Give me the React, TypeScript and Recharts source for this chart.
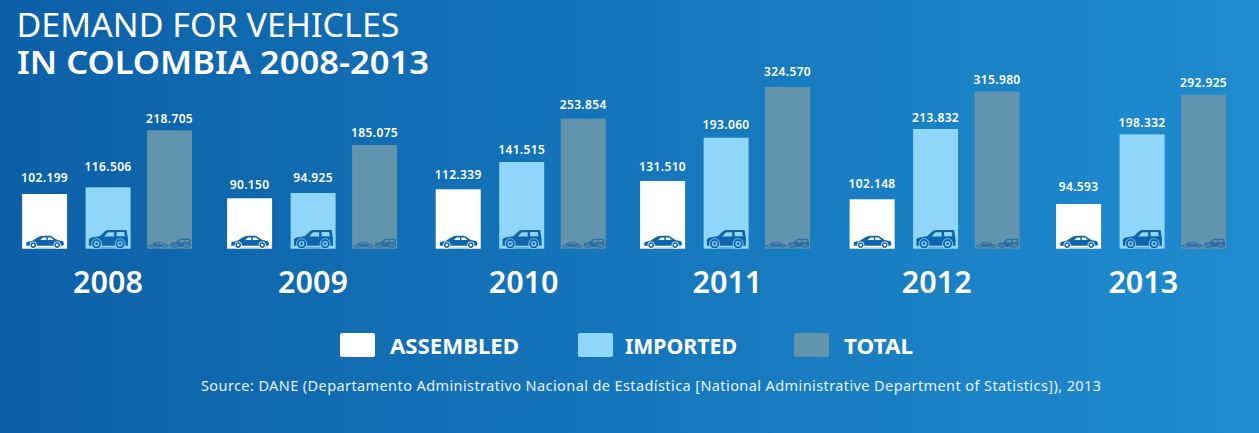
import React from "react";
import { BarChart, Bar, XAxis, YAxis, Legend, LabelList } from "recharts";

const years = ["2008", "2009", "2010", "2011", "2012", "2013"];
// Printed figures
const assembledLabels = ["102.199", "90.150", "112.339", "131.510", "102.148", "94.593"];
const importedLabels = ["116.506", "94.925", "141.515", "193.060", "213.832", "198.332"];
const totalLabels = ["218.705", "185.075", "253.854", "324.570", "315.980", "292.925"];
// Bar levels (the source bars are not strictly proportional to their printed figures)
const assembled = [109400, 100800, 118800, 135400, 98800, 89400];
const imported = [122800, 111400, 173400, 222000, 239400, 228800];
const total = [236800, 207400, 260000, 323400, 314000, 308000];

const legendItems = [
  { name: "ASSEMBLED", color: "#ffffff" },
  { name: "IMPORTED", color: "#90d5fa" },
  { name: "TOTAL", color: "#6394ad" },
];

const FONT = "'Noto Sans', sans-serif";
const ICON = "#0f65ab";
// Per-group layout corrections (the source groups are not evenly spaced)
const groupNudge = [0, -1.8, 0, -2.4, 0.3, 0];
const tickNudge = [0.5, -1.3, 2.5, -0.5, 2, 1.8];
const assembledGap = [12, 9, 10, 9.7, 11.6, 13];
const importedGap = [16, 11, 8, 8.7, 6.7, 7.6];
const totalGap = [7.6, 8.3, 9.7, 11.3, 7.7, 8];

const rows = years.map((year, i) => ({
  year,
  assembled: assembled[i],
  imported: imported[i],
  total: total[i],
  assembledLabel: assembledLabels[i],
  importedLabel: importedLabels[i],
  totalLabel: totalLabels[i],
}));

function Sedan({ x, y, s, fg, bg }: any) {
  return (
    <g transform={`translate(${x},${y}) scale(${s})`}>
      <path d="M8 -0.9H31" stroke={fg} strokeOpacity={0.25} strokeWidth={1.4} />
      <path
        d="M0.3 -3.2 L0.8 -6.6 L6 -7.6 L12.5 -11.6 Q15 -13 19 -13 L25 -13 L31.5 -8.6 L37.3 -7.4 L38.3 -4.4 L37 -3 L0.3 -3Z"
        fill={fg}
      />
      <path d="M14.4 -8.6 L17.2 -11.3 L20.5 -11.3 L20.5 -8.6Z M22 -11.3 L25 -11.3 L28 -8.6 L22 -8.6Z" fill={bg} />
      <circle cx={7.4} cy={-3.6} r={3.6} fill={bg} />
      <circle cx={7.4} cy={-3.6} r={2.8} fill={fg} />
      <circle cx={7.4} cy={-3.6} r={1.3} fill={bg} />
      <circle cx={31.4} cy={-3.6} r={3.6} fill={bg} />
      <circle cx={31.4} cy={-3.6} r={2.8} fill={fg} />
      <circle cx={31.4} cy={-3.6} r={1.3} fill={bg} />
    </g>
  );
}

function Suv({ x, y, s, fg, bg }: any) {
  return (
    <g transform={`translate(${x},${y}) scale(${s})`}>
      <path d="M12 -1H27" stroke={fg} strokeOpacity={0.35} strokeWidth={1.3} />
      <path
        d="M0.3 -3 L0.3 -9.8 L3 -11.2 L11 -12.5 L17 -18 Q18 -18.6 20 -18.6 L38 -18.6 L39.4 -10 L39.4 -3Z"
        fill={fg}
      />
      <path d="M15.5 -12.3 L19.5 -16.4 L25.5 -16.4 L25.5 -12.3Z M28 -16.6 L35.5 -16.6 L36.3 -12.5 L28 -12.5Z" fill={bg} />
      <circle cx={8} cy={-5} r={5.4} fill={bg} />
      <circle cx={8} cy={-5} r={4.6} fill={fg} />
      <circle cx={8} cy={-5} r={2.7} fill={bg} />
      <circle cx={8} cy={-5} r={1.4} fill={fg} />
      <circle cx={31.5} cy={-5} r={5.4} fill={bg} />
      <circle cx={31.5} cy={-5} r={4.6} fill={fg} />
      <circle cx={31.5} cy={-5} r={2.7} fill={bg} />
      <circle cx={31.5} cy={-5} r={1.4} fill={fg} />
    </g>
  );
}

const makeShape = (kind: string, fill: string, extra: number) => (p: any) => {
  const x = p.x + groupNudge[p.index] + extra;
  const base = p.y + p.height;
  return (
    <g>
      <rect x={x} y={p.y} width={p.width} height={p.height} fill={fill} />
      {kind === "a" && <Sedan x={x + 3.7} y={base} s={1} fg={ICON} bg="#ffffff" />}
      {kind === "i" && <Suv x={x + 3} y={base} s={1} fg={ICON} bg="#90d5fa" />}
      {kind === "t" && (
        <g>
          <Sedan x={x + 1} y={base} s={0.54} fg="#2f72a6" bg="#6394ad" />
          <Suv x={x + 23} y={base} s={0.53} fg="#2a6ea4" bg="#6394ad" />
        </g>
      )}
    </g>
  );
};

const makeLabel = (gaps: number[], extra: number) => (p: any) => (
  <text
    x={p.x + p.width / 2 + groupNudge[p.index] + extra}
    y={p.y - gaps[p.index]}
    textAnchor="middle"
    fontFamily={FONT}
    fontSize={12}
    fontWeight={600}
    letterSpacing={0.35}
    fill="#ffffff"
  >
    {p.value}
  </text>
);

const YearTick = (p: any) => (
  <text
    x={p.x + tickNudge[p.index]}
    y={292.5}
    textAnchor="middle"
    fontFamily={FONT}
    fontSize={30.5}
    fontWeight={600}
    fill="#ffffff"
  >
    {p.payload.value}
  </text>
);

const swatchX = [340, 578, 794];
const legendTextX = [390, 625, 844];
const legendTextW = [129, 112, 69];

const LegendContent = () => (
  <svg width={1259} height={50} style={{ display: "block" }}>
    {legendItems.map((it, i) => (
      <g key={it.name}>
        <rect x={swatchX[i]} y={8} width={35} height={24} rx={2} fill={it.color} />
        <text
          x={legendTextX[i]}
          y={29}
          fontFamily={FONT}
          fontSize={21}
          fontWeight={700}
          fill="#ffffff"
          textLength={legendTextW[i]}
          lengthAdjust="spacingAndGlyphs"
        >
          {it.name}
        </text>
      </g>
    ))}
  </svg>
);

export default function App() {
  return (
    <div
      style={{
        position: "fixed",
        left: 0,
        top: 0,
        width: 1259,
        height: 433,
        overflow: "hidden",
        background: "linear-gradient(90deg,#0c60a7 0%,#1f8ccf 100%)",
      }}
    >
      <svg width={1259} height={433} style={{ position: "absolute", left: 0, top: 0 }}>
        <text fontFamily={FONT} fontSize={33} fill="#ffffff">
          <tspan x={16.5} y={36.7} textLength={383} lengthAdjust="spacingAndGlyphs">
            DEMAND FOR VEHICLES
          </tspan>
          <tspan x={17} y={74} fontWeight={600} textLength={412} lengthAdjust="spacingAndGlyphs">
            IN COLOMBIA 2008-2013
          </tspan>
        </text>
        <text x={201} y={391} fontFamily={FONT} fontSize={14.5} fill="#e6f3ff" textLength={900} lengthAdjust="spacing">
          Source: DANE (Departamento Administrativo Nacional de Estadística [National Administrative Department of Statistics]), 2013
        </text>
      </svg>
      <BarChart
        width={1259}
        height={433}
        data={rows}
        margin={{ top: 78.7, right: 14.1, bottom: 124.3, left: 4.1 }}
        barSize={45}
        barGap={17.5}
        style={{ position: "absolute", left: 0, top: 0 }}
      >
        <XAxis dataKey="year" axisLine={false} tickLine={false} height={60} interval={0} tick={YearTick} />
        <YAxis hide domain={[0, 340000]} />
        <Legend
          layout="horizontal"
          verticalAlign="middle"
          align="center"
          content={LegendContent}
          wrapperStyle={{ position: "absolute", left: 0, top: 325, width: 1259, height: 50, margin: 0 }}
        />
        <Bar dataKey="assembled" name="ASSEMBLED" isAnimationActive={false} shape={makeShape("a", "#ffffff", 0)}>
          <LabelList dataKey="assembledLabel" content={makeLabel(assembledGap, 0)} />
        </Bar>
        <Bar dataKey="imported" name="IMPORTED" isAnimationActive={false} shape={makeShape("i", "#90d5fa", 1)}>
          <LabelList dataKey="importedLabel" content={makeLabel(importedGap, 1)} />
        </Bar>
        <Bar dataKey="total" name="TOTAL" isAnimationActive={false} shape={makeShape("t", "#6394ad", 0)}>
          <LabelList dataKey="totalLabel" content={makeLabel(totalGap, 0)} />
        </Bar>
      </BarChart>
    </div>
  );
}
